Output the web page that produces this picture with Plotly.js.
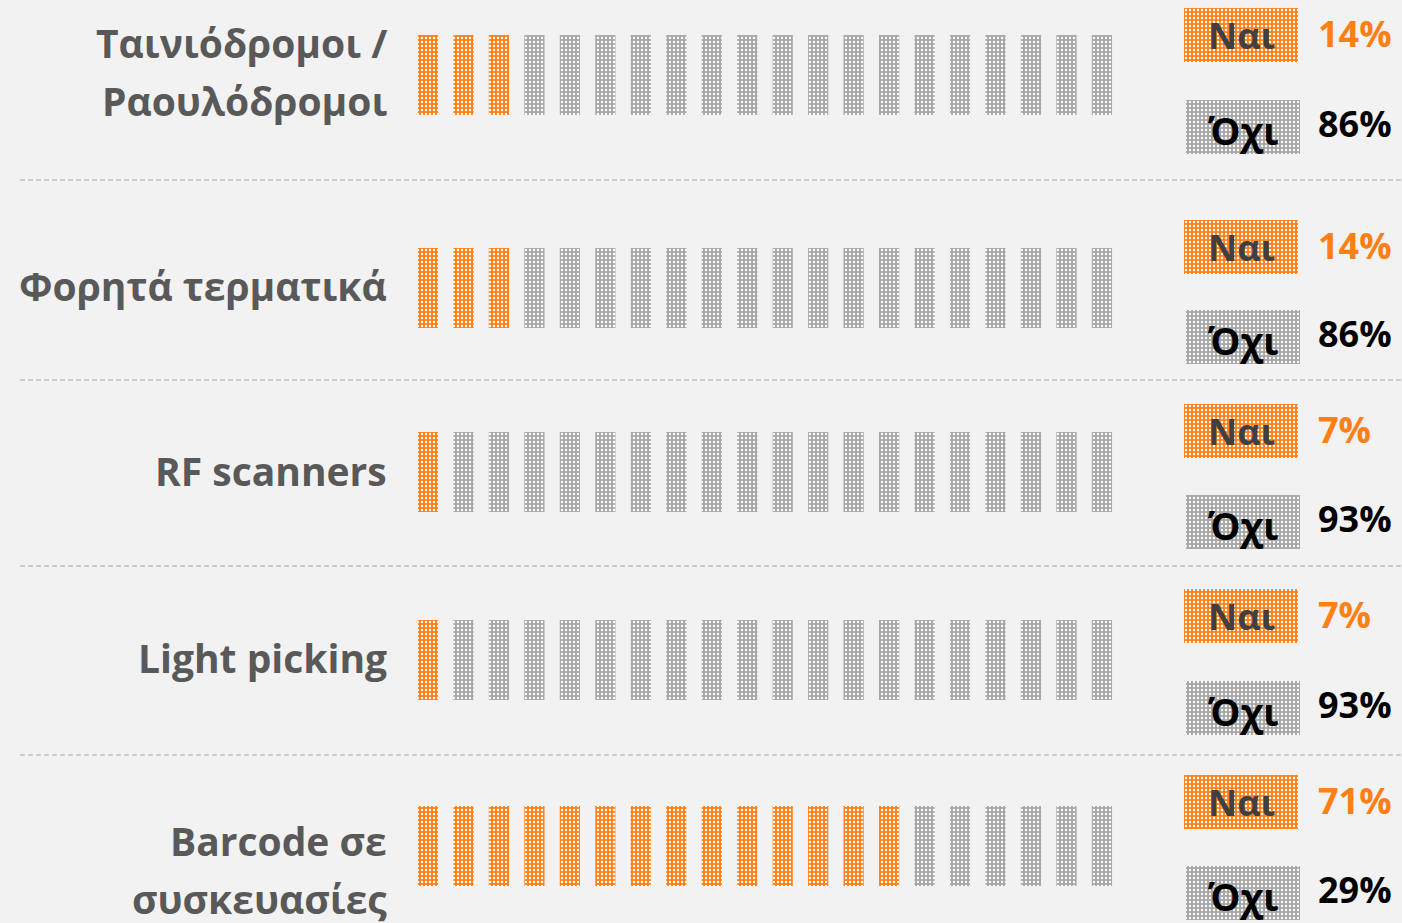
<!DOCTYPE html>
<html>
<head>
<meta charset="utf-8">
<script src="https://cdn.plot.ly/plotly-3.0.1.min.js"></script>
<style>html,body{margin:0;padding:0;background:#f2f2f2;}#chart{width:1402px;height:923px;}</style>
</head>
<body>
<div id="chart"></div>
<script>
// ---- data ----
const categories = [["Ταινιόδρομοι /", "Ραουλόδρομοι"], ["Φορητά τερματικά"], ["RF scanners"], ["Light picking"], ["Barcode σε", "συσκευασίες"]];
const yesPct = [14, 14, 7, 7, 71];
const noPct = [86, 86, 93, 93, 29];
const yesLabel = "Ναι";
const noLabel = "Όχι";
const iconsPerRow = 20;

// ---- layout constants (pixels) ----
const W = 1402, H = 923;
const rowBarTop = [35, 248, 432, 620, 806];
const barH = 80;
const yesBoxTop = [8, 220, 404, 589, 775];
const noBoxTop = [100, 310, 495, 681, 866];
const boxH = 54, boxW = 114, boxCx = 1241;
const labelCenterY = [71, 285, 470, 657, 869];
const lineGap = 58;
const separatorsY = [180, 380, 566, 755];
const pctX = 1316;
const firstIconPx = 428, iconStepPx = 35.47;

const ORANGE = "#ff7f17", GREY = "#a6a6a6", BG = "#f2f2f2";
const fontFam = "'Open Sans', 'Noto Sans', sans-serif";

function pattern(bg) {
  return {shape: ".", fgcolor: "#ffffff", bgcolor: bg, size: 4, solidity: 0.28, fillmode: "replace"};
}

// build icon arrays
const yX = [], yBase = [], yLen = [], gX = [], gBase = [], gLen = [];
yesPct.forEach((p, r) => {
  const n = Math.round(p / 100 * iconsPerRow);
  for (let i = 0; i < iconsPerRow; i++) {
    if (i < n) { yX.push(i); yBase.push(rowBarTop[r]); yLen.push(barH); }
    else { gX.push(i); gBase.push(rowBarTop[r]); gLen.push(barH); }
  }
});

const traces = [
  {type: "bar", x: yX, y: yLen, base: yBase, width: 0.57, xaxis: "x", yaxis: "y",
   marker: {color: ORANGE, line: {width: 0}, pattern: pattern(ORANGE)}, hoverinfo: "skip"},
  {type: "bar", x: gX, y: gLen, base: gBase, width: 0.57, xaxis: "x", yaxis: "y",
   marker: {color: GREY, line: {width: 0}, pattern: pattern(GREY)}, hoverinfo: "skip"},
  // legend-like boxes
  {type: "bar", x: yesBoxTop.map(() => boxCx), y: yesBoxTop.map(() => boxH), base: yesBoxTop, width: boxW,
   xaxis: "x2", yaxis: "y", marker: {color: ORANGE, line: {width: 0}, pattern: pattern(ORANGE)}, hoverinfo: "skip"},
  {type: "bar", x: noBoxTop.map(() => boxCx + 2), y: noBoxTop.map(() => boxH), base: noBoxTop, width: boxW,
   xaxis: "x2", yaxis: "y", marker: {color: GREY, line: {width: 0}, pattern: pattern(GREY)}, hoverinfo: "skip"}
];

const x0 = -firstIconPx / iconStepPx;
const annotations = [];
categories.forEach((lines, r) => {
  const startY = labelCenterY[r] - (lines.length - 1) * lineGap / 2;
  lines.forEach((t, k) => {
    annotations.push({xref: "x2", yref: "y", x: 389, y: startY + k * lineGap, text: "<b>" + t + "</b>",
      showarrow: false, xanchor: "right", yanchor: "middle", font: {family: fontFam, size: 39, color: "#595959"}});
  });
  annotations.push({xref: "x2", yref: "y", x: boxCx, y: yesBoxTop[r] + boxH / 2, text: "<b>" + yesLabel + "</b>",
    showarrow: false, xanchor: "center", yanchor: "middle", font: {family: fontFam, size: 36, color: "#404040"}});
  annotations.push({xref: "x2", yref: "y", x: boxCx + 2, y: noBoxTop[r] + boxH / 2 + 3, text: "<b>" + noLabel + "</b>",
    showarrow: false, xanchor: "center", yanchor: "middle", font: {family: fontFam, size: 38, color: "#000000"}});
  annotations.push({xref: "x2", yref: "y", x: pctX, y: yesBoxTop[r] + boxH / 2 - 2, text: "<b>" + yesPct[r] + "%</b>",
    showarrow: false, xanchor: "left", yanchor: "middle", font: {family: fontFam, size: 36, color: ORANGE}});
  annotations.push({xref: "x2", yref: "y", x: pctX, y: noBoxTop[r] + boxH / 2 - 4, text: "<b>" + noPct[r] + "%</b>",
    showarrow: false, xanchor: "left", yanchor: "middle", font: {family: fontFam, size: 36, color: "#000000"}});
});

const shapes = separatorsY.map(y => ({type: "line", xref: "x2", yref: "y", x0: 20, x1: W, y0: y, y1: y,
  line: {color: "#a6a6a6", width: 1.2, dash: "5px,3px"}}));

const layout = {
  width: W, height: H, margin: {l: 0, r: 0, t: 0, b: 0},
  paper_bgcolor: BG, plot_bgcolor: BG, showlegend: false, barmode: "overlay",
  xaxis: {range: [x0, x0 + W / iconStepPx], visible: false, fixedrange: true},
  xaxis2: {range: [0, W], overlaying: "x", visible: false, fixedrange: true},
  yaxis: {range: [H, 0], visible: false, fixedrange: true},
  annotations: annotations, shapes: shapes
};

Plotly.newPlot("chart", traces, layout, {displayModeBar: false, staticPlot: true});
</script>
</body>
</html>
